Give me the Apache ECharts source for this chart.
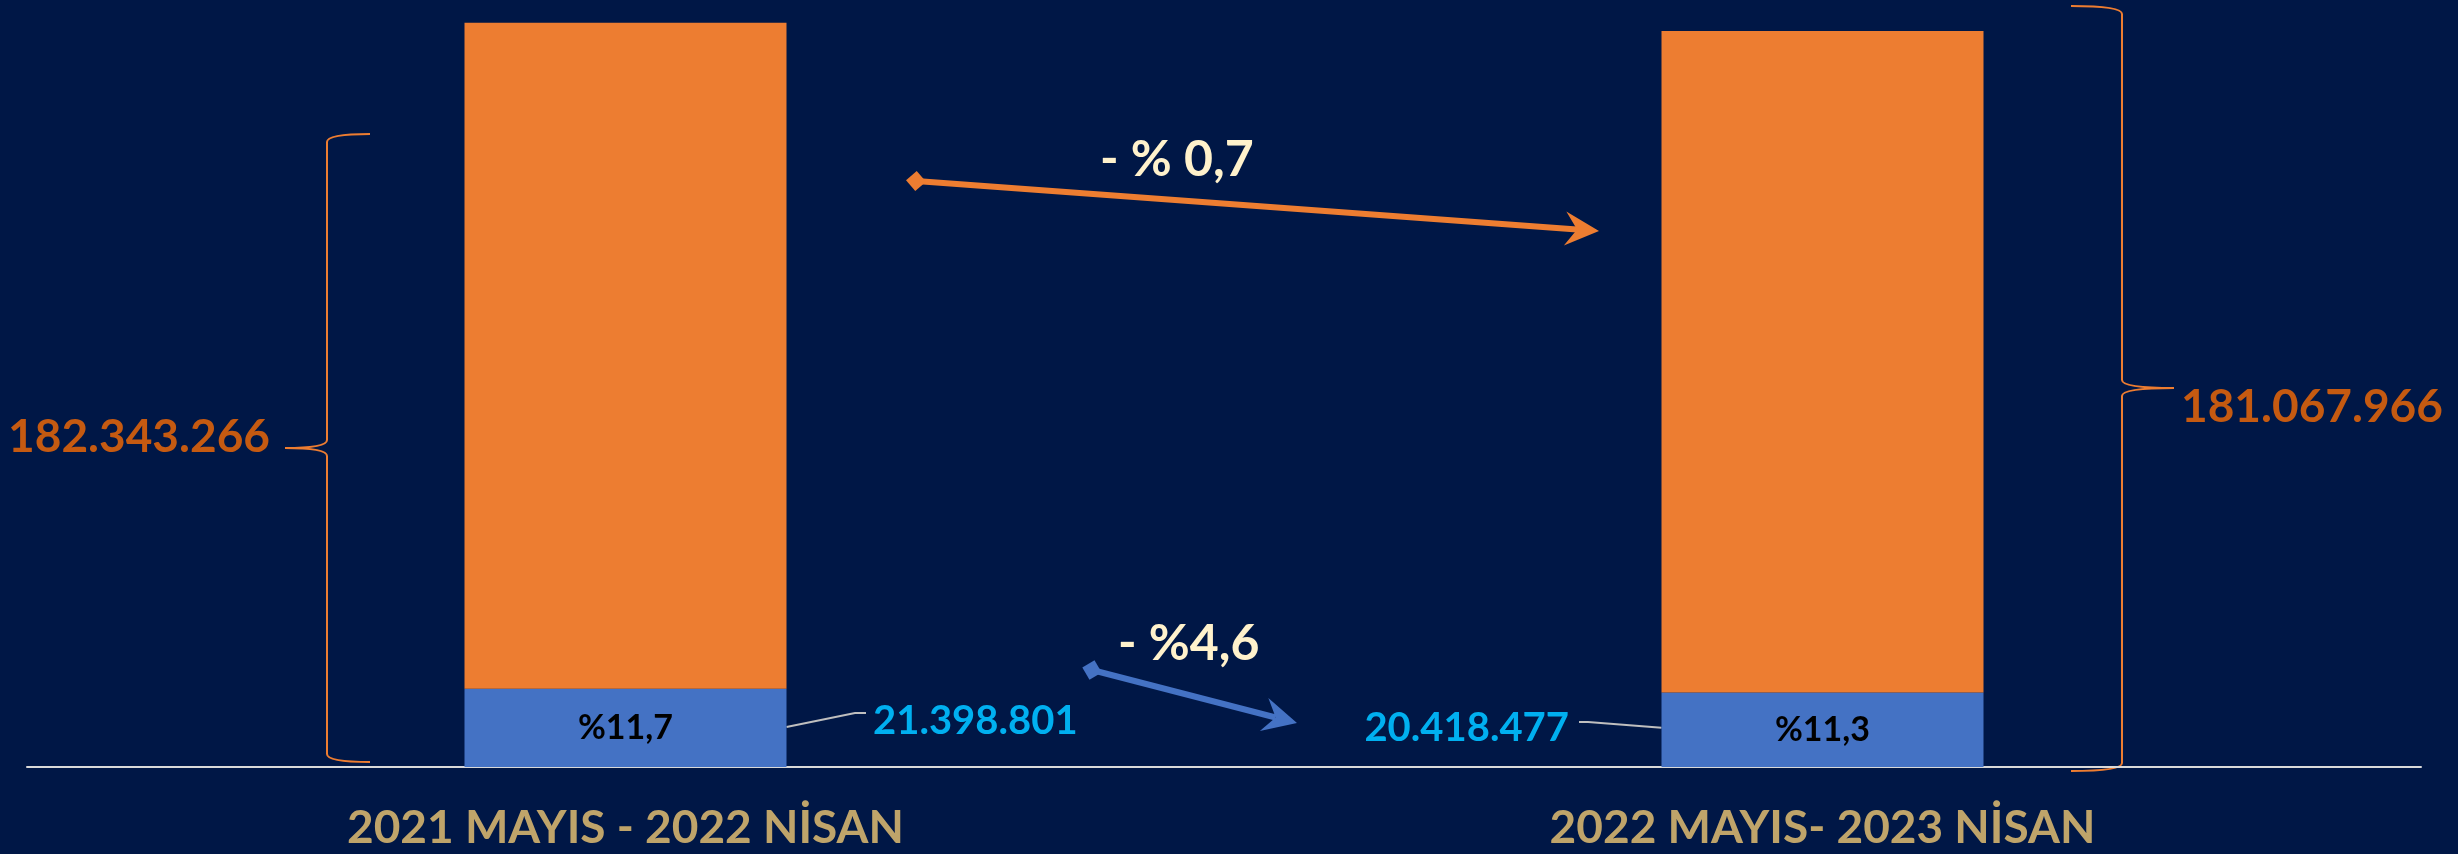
<!DOCTYPE html>
<html>
<head>
<meta charset="utf-8">
<script src="https://cdn.jsdelivr.net/npm/echarts@6.0.0/dist/echarts.min.js"></script>
<style>
  html, body { margin: 0; padding: 0; background: #001746; }
  #chart { width: 2458px; height: 854px; }
</style>
</head>
<body>
<div id="chart"></div>
<script>
// data
const categories = ['2021 MAYIS - 2022 NİSAN', '2022 MAYIS- 2023 NİSAN'];
const blueValues = [21398801, 20418477];
const orangeValues = [182343266, 181067966];
const blueShareLabels = ['%11,7', '%11,3'];
const changeLabels = ['- % 0,7', '- %4,6'];

const FONT = 'Lato, "Open Sans", sans-serif';

function fmt(v) {
  return String(v).replace(/\B(?=(\d{3})+(?!\d))/g, '.');
}

const chart = echarts.init(document.getElementById('chart'));

const option = {
  backgroundColor: '#001746',
  animation: false,
  grid: { left: 27, width: 2394, top: 0, height: 767 },
  xAxis: {
    type: 'category',
    data: categories,
    axisLine: { lineStyle: { color: '#D9D9D9', width: 2 } },
    axisTick: { show: false },
    axisLabel: {
      color: '#BFA46A',
      fontSize: 46,
      fontWeight: 'bold',
      fontFamily: FONT,
      margin: 38
    }
  },
  yAxis: {
    type: 'value',
    min: 0,
    max: 210000000,
    show: false,
    splitLine: { show: false }
  },
  series: [
    {
      name: 'blue',
      type: 'bar',
      stack: 'total',
      barWidth: 322,
      data: blueValues,
      itemStyle: { color: '#4472C4' },
      label: {
        show: true,
        position: 'inside',
        formatter: p => blueShareLabels[p.dataIndex],
        color: '#000',
        fontSize: 34,
        fontWeight: 'bold',
        fontFamily: FONT
      }
    },
    {
      name: 'orange',
      type: 'bar',
      stack: 'total',
      barWidth: 322,
      data: orangeValues,
      itemStyle: { color: '#ED7D31' }
    }
  ]
};
chart.setOption(option);

// annotation layer
const half = 161;
const p0 = chart.convertToPixel({ gridIndex: 0 }, [0, blueValues[0] / 2]);
const p1 = chart.convertToPixel({ gridIndex: 0 }, [1, blueValues[1] / 2]);

function text(str, x, y, color, size, align) {
  return {
    type: 'text',
    style: {
      text: str, x, y, fill: color,
      font: 'bold ' + size + 'px ' + FONT,
      align, verticalAlign: 'middle',
      textAlign: align, textVerticalAlign: 'middle'
    }
  };
}

function arrow(x1, y1, x2, y2, color) {
  const a = Math.atan2(y2 - y1, x2 - x1);
  const ux = Math.cos(a), uy = Math.sin(a), nx = -uy, ny = ux;
  const L = 34, W = 17, N = 22, d = 10;
  const bx = x2 - ux * L, by = y2 - uy * L;
  const head = [[x2, y2], [bx + nx * W, by + ny * W], [x2 - ux * N, y2 - uy * N], [bx - nx * W, by - ny * W]];
  const diamond = [[x1 - ux * d, y1 - uy * d], [x1 + nx * d, y1 + ny * d], [x1 + ux * d, y1 + uy * d], [x1 - nx * d, y1 - ny * d]];
  return [
    { type: 'line', shape: { x1, y1, x2: x2 - ux * N, y2: y2 - uy * N }, style: { stroke: color, lineWidth: 6 } },
    { type: 'polygon', shape: { points: head }, style: { fill: color } },
    { type: 'polygon', shape: { points: diamond }, style: { fill: color } }
  ];
}

// curly brace: vertical stroke at x, arms reaching armX, tip reaching tipX at yTip
function brace(x, armX, tipX, yTop, yTip, yBot) {
  const s = { stroke: '#ED7D31', lineWidth: 2, fill: null };
  const dir = armX > x ? 1 : -1;
  const bz = (x1, y1, cpx1, cpy1, cpx2, cpy2, x2, y2) =>
    ({ type: 'bezierCurve', shape: { x1, y1, cpx1, cpy1, cpx2, cpy2, x2, y2 }, style: s });
  const ln = (x1, y1, x2, y2) => ({ type: 'line', shape: { x1, y1, x2, y2 }, style: s });
  const arm = Math.abs(armX - x), tip = Math.abs(tipX - x);
  return [
    bz(armX, yTop, x + dir * arm * 0.4, yTop, x, yTop + 2, x, yTop + 8),
    ln(x, yTop + 8, x, yTip - 8),
    bz(x, yTip - 8, x, yTip - 2, x - dir * tip * 0.4, yTip, tipX, yTip),
    bz(tipX, yTip, x - dir * tip * 0.4, yTip, x, yTip + 2, x, yTip + 8),
    ln(x, yTip + 8, x, yBot - 8),
    bz(x, yBot - 8, x, yBot - 2, x + dir * arm * 0.4, yBot, armX, yBot)
  ];
}

const elements = [
  ...brace(327, 370, 285, 134, 448, 762),
  ...brace(2122, 2071, 2174, 6, 388, 771),
  text(fmt(orangeValues[0]), 270, 437, '#C55A11', 46, 'right'),
  text(fmt(orangeValues[1]), 2181, 407, '#C55A11', 46, 'left'),

  // leader lines to blue values
  {
    type: 'polyline',
    shape: { points: [[p0[0] + half, p0[1] - 1], [855, 713], [866, 713]] },
    style: { stroke: '#BFBFBF', lineWidth: 2, fill: null }
  },
  {
    type: 'polyline',
    shape: { points: [[p1[0] - half, p1[1] - 2], [1588, 722], [1579, 722]] },
    style: { stroke: '#BFBFBF', lineWidth: 2, fill: null }
  },
  text(fmt(blueValues[0]), 873, 721, '#00B0F0', 40, 'left'),
  text(fmt(blueValues[1]), 1569, 728, '#00B0F0', 40, 'right'),

  // change arrows
  ...arrow(916, 181, 1599, 231, '#ED7D31'),
  ...arrow(1092, 670, 1297, 723, '#4472C4'),
  text(changeLabels[0], 1100, 160, '#FFF2CC', 50, 'left'),
  text(changeLabels[1], 1118, 644, '#FFF2CC', 50, 'left')
];

chart.setOption({ graphic: { elements } });
</script>
</body>
</html>
